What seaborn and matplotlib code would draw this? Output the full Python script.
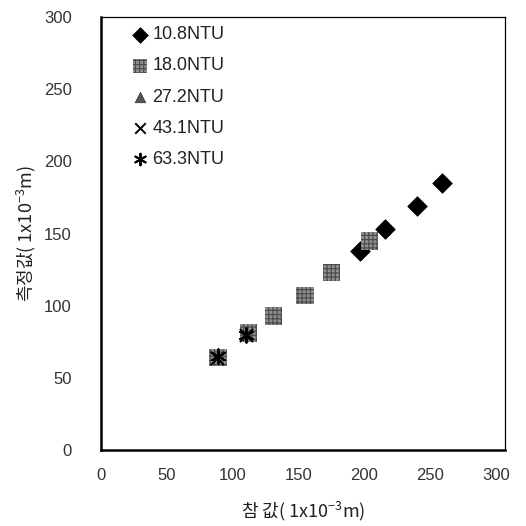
import matplotlib
matplotlib.use("Agg")
import matplotlib.pyplot as plt
import seaborn as sns
import pandas as pd

sns.set_theme(style="white")
plt.rcParams['font.family'] = ['Liberation Sans', 'Noto Sans CJK KR', 'DejaVu Sans']
plt.rcParams['mathtext.fontset'] = 'custom'
plt.rcParams['mathtext.rm'] = 'Noto Sans CJK KR'
plt.rcParams['mathtext.it'] = 'Noto Sans CJK KR'
plt.rcParams['hatch.linewidth'] = 0.8

# ---- data ----
series_names = ["10.8NTU", "18.0NTU", "27.2NTU", "43.1NTU", "63.3NTU"]
true_108 = [197, 216, 240, 259]
meas_108 = [138, 153, 169, 185]
true_180 = [89, 112, 131, 155, 175, 204]
meas_180 = [64, 81, 93, 107, 123, 145]
true_272 = [89, 112, 131]
meas_272 = [65, 81, 95]
true_431 = [88, 110]
meas_431 = [64, 80]
true_633 = [89, 110]
meas_633 = [65, 80]
x_ticks = [0, 50, 100, 150, 200, 250, 300]
y_ticks = [0, 50, 100, 150, 200, 250, 300]

frames = {
    "10.8NTU": (true_108, meas_108),
    "18.0NTU": (true_180, meas_180),
    "27.2NTU": (true_272, meas_272),
    "43.1NTU": (true_431, meas_431),
    "63.3NTU": (true_633, meas_633),
}

styles = {
    "10.8NTU": dict(marker="D", s=100, color="black", edgecolor="black", linewidth=0.5),
    "18.0NTU": dict(marker="s", s=160, color="#8e8e8e", edgecolor="#4a4a4a", linewidth=0, hatch="++++"),
    "27.2NTU": dict(marker="^", s=90, color="#555555", edgecolor="#333333", linewidth=0.5),
    "43.1NTU": dict(marker="x", s=90, color="black", linewidth=1.4),
    "63.3NTU": dict(marker=(6, 2, 0), s=110, color="black", linewidth=1.4),
}

fig = plt.figure(figsize=(5.26, 5.26), dpi=100)
ax = fig.add_axes([101/526, 1-450/526, (505-101)/526, (450-17)/526])

order = ["10.8NTU", "27.2NTU", "18.0NTU", "43.1NTU", "63.3NTU"]
handles = {}
for name in order:
    xs, ys = frames[name]
    df = pd.DataFrame({"true": xs, "meas": ys})
    n_before = len(ax.collections)
    sns.scatterplot(data=df, x="true", y="meas", ax=ax, legend=False, **styles[name])
    handles[name] = ax.collections[n_before]

ax.set_xlim(0, 306.8)
ax.set_ylim(0, 300)
ax.set_xticks(x_ticks)
ax.set_yticks(y_ticks)
ax.tick_params(axis='both', length=0, labelsize=12, colors='#333333')
ax.tick_params(axis='x', pad=13)
ax.tick_params(axis='y', pad=21)
for side in ["left", "bottom"]:
    ax.spines[side].set_linewidth(1.8)
    ax.spines[side].set_color("black")
for side in ["top", "right"]:
    ax.spines[side].set_linewidth(0.9)
    ax.spines[side].set_color("black")

ax.set_xlabel("참 값( 1x10$^{-3}$m)", fontsize=13, labelpad=12, color='#222222',
              family='Noto Sans CJK KR')
ax.set_ylabel("측정값( 1x10$^{-3}$m)", fontsize=13, labelpad=4, color='#222222',
              family='Noto Sans CJK KR')

leg = ax.legend([handles[n] for n in series_names], series_names,
                loc="upper left", bbox_to_anchor=(0.058, 0.995),
                frameon=False, fontsize=13, handlelength=0.9, handletextpad=0.25,
                labelspacing=0.78, borderaxespad=0.0, scatterpoints=1, markerscale=0.8,
                labelcolor='#222222')

fig.savefig("out.png", dpi=100)
